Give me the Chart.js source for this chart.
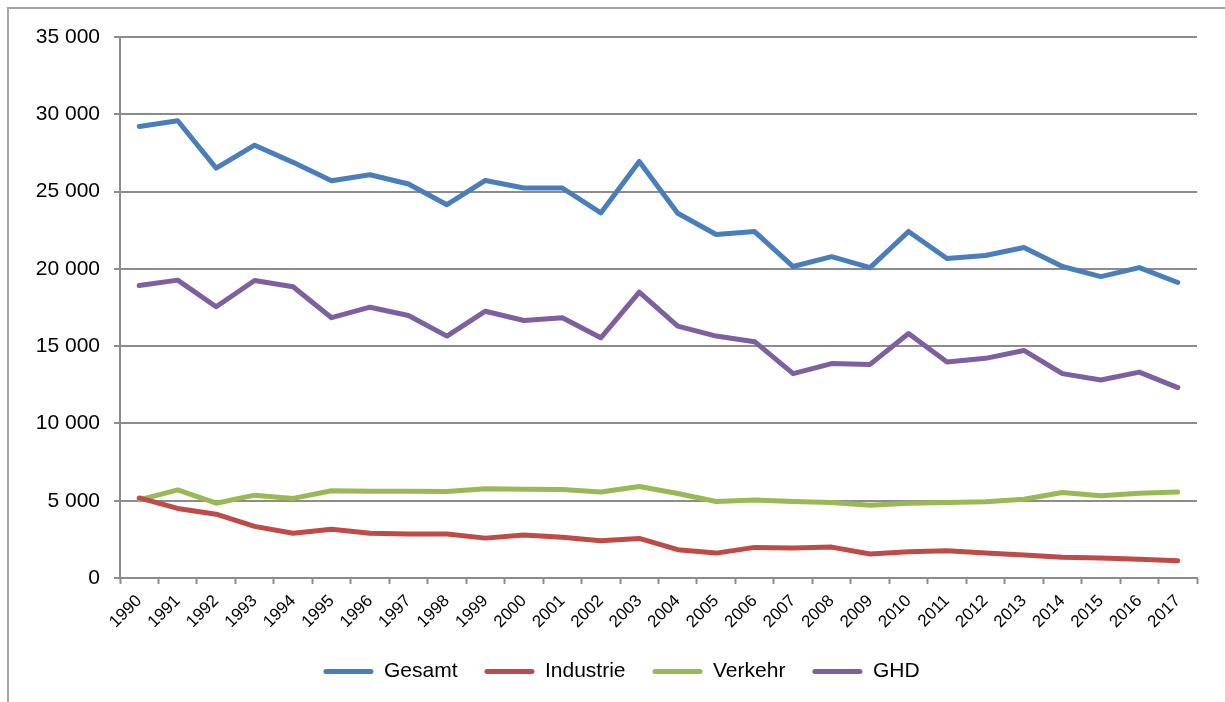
<!DOCTYPE html>
<html lang="de">

<head>
    <meta charset="UTF-8">
    <title>Gesamt, Industrie, Verkehr, GHD</title>
    <script src="https://cdn.jsdelivr.net/npm/chart.js"></script>
    <style>
        body { margin: 0; background: #fff; }
        .frame {
            position: absolute; left: 7px; top: 7px;
            width: 1240px; height: 720px;
            border: 2px solid #a6a6a6;
        }
        .wrap { position: absolute; left: 0; top: 0; width: 1225px; height: 702px; }
    </style>
</head>

<body>
    <div class="frame"></div>
    <div class="wrap">
        <canvas id="myChart"></canvas>
    </div>
    <script>
        var years = ['1990', '1991', '1992', '1993', '1994', '1995', '1996', '1997', '1998', '1999',
            '2000', '2001', '2002', '2003', '2004', '2005', '2006', '2007', '2008', '2009',
            '2010', '2011', '2012', '2013', '2014', '2015', '2016', '2017'];

        var gesamt = [29210, 29580, 26520, 28000, 26890, 25700, 26090, 25490, 24150, 25720,
            25230, 25230, 23620, 26950, 23600, 22220, 22410, 20150, 20790, 20080,
            22420, 20670, 20860, 21380, 20150, 19500, 20080, 19120];
        var industrie = [5180, 4500, 4130, 3340, 2890, 3160, 2890, 2840, 2840, 2580,
            2780, 2630, 2410, 2560, 1830, 1610, 1980, 1940, 2000, 1550,
            1700, 1770, 1610, 1490, 1340, 1290, 1210, 1120];
        var verkehr = [5050, 5700, 4840, 5360, 5150, 5640, 5620, 5620, 5600, 5770,
            5740, 5720, 5570, 5920, 5470, 4950, 5050, 4950, 4890, 4710,
            4840, 4890, 4930, 5100, 5530, 5320, 5490, 5570];
        var ghd = [18920, 19270, 17550, 19250, 18840, 16840, 17520, 16980, 15650, 17260,
            16660, 16840, 15540, 18490, 16290, 15650, 15290, 13220, 13870, 13820,
            15820, 13970, 14210, 14720, 13220, 12810, 13320, 12320];

        var yTicks = [0, 5000, 10000, 15000, 20000, 25000, 30000, 35000];

        var gray = '#8c8c8c';
        var fontFam = "'Liberation Sans', Arial, sans-serif";

        function line(label, data, color) {
            return {
                label: label,
                data: data,
                borderColor: color,
                backgroundColor: color,
                borderWidth: 5,
                pointRadius: 0,
                borderCapStyle: 'round',
                borderJoinStyle: 'round',
                tension: 0
            };
        }

        // legend sits a bit right of the canvas centre in the original
        var legendShift = {
            id: 'legendShift',
            afterLayout: function (chart) {
                chart.legend.left += 23;
                chart.legend.right += 23;
            }
        };

        const ctx = document.getElementById('myChart');
        var myChart = new Chart(ctx, {
            type: 'line',
            data: {
                labels: years,
                datasets: [
                    line('Gesamt', gesamt, '#4a7ebb'),
                    line('Industrie', industrie, '#be4b48'),
                    line('Verkehr', verkehr, '#98b954'),
                    line('GHD', ghd, '#7d60a0')
                ]
            },
            plugins: [legendShift],
            options: {
                responsive: true,
                maintainAspectRatio: false,
                animation: false,
                layout: {
                    padding: { left: 0, top: 37, right: 28, bottom: 10 }
                },
                plugins: {
                    tooltip: { enabled: false },
                    legend: {
                        position: 'bottom',
                        labels: {
                            boxWidth: 50,
                            boxHeight: 5,
                            padding: 27,
                            color: '#000',
                            useBorderRadius: true,
                            borderRadius: 2.5,
                            font: { size: 21, family: fontFam },
                            generateLabels: function (chart) {
                                var items = Chart.defaults.plugins.legend.labels.generateLabels(chart);
                                items.forEach(function (it) { it.lineWidth = 0; });
                                return items;
                            }
                        }
                    }
                },
                scales: {
                    x: {
                        offset: true,
                        grid: {
                            offset: true,
                            drawOnChartArea: false,
                            drawTicks: true,
                            tickLength: 6,
                            tickWidth: 2,
                            color: gray
                        },
                        border: { color: gray, width: 2 },
                        ticks: {
                            minRotation: 45,
                            maxRotation: 45,
                            autoSkip: false,
                            padding: 7,
                            color: '#000',
                            font: { size: 17, family: fontFam }
                        },
                        afterFit: function (scale) { scale.height = 56; }
                    },
                    y: {
                        min: 0,
                        max: 35000,
                        afterBuildTicks: function (scale) {
                            scale.ticks = yTicks.map(function (v) { return { value: v }; });
                        },
                        grid: {
                            color: gray,
                            lineWidth: 2,
                            tickLength: 6
                        },
                        border: { color: gray, width: 2 },
                        ticks: {
                            padding: 14,
                            color: '#000',
                            font: { size: 21, family: fontFam },
                            callback: function (v) {
                                return String(v).replace(/\B(?=(\d{3})+(?!\d))/g, ' ');
                            }
                        },
                        afterFit: function (scale) { scale.width = 120; }
                    }
                }
            }
        });
    </script>

</body>

</html>
